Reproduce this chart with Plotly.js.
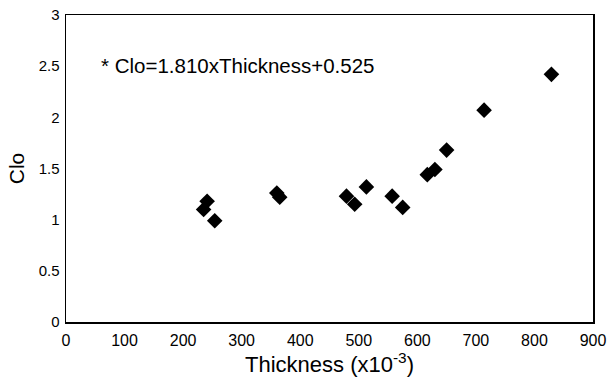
<!DOCTYPE html>
<html>
<head>
<meta charset="utf-8">
<script src="https://cdn.plot.ly/plotly-3.0.1.min.js"></script>
<style>html,body{margin:0;padding:0;background:#fff;}#chart{width:609px;height:382px;}</style>
</head>
<body>
<div id="chart"></div>
<script>
var thickness = [241, 235, 254, 360, 365, 479, 493, 513, 557, 575, 617, 630, 650, 714, 829];
var clo = [1.18, 1.10, 0.99, 1.26, 1.22, 1.23, 1.15, 1.32, 1.23, 1.12, 1.44, 1.49, 1.68, 2.07, 2.42];
var xTicks = [0, 100, 200, 300, 400, 500, 600, 700, 800, 900];
var yTicks = [0, 0.5, 1, 1.5, 2, 2.5, 3];
var equation = "* Clo=1.810xThickness+0.525";

var font = "Liberation Sans, Arial, sans-serif";
Plotly.newPlot('chart', [{
  x: thickness, y: clo, type: 'scatter', mode: 'markers',
  marker: {symbol: 'diamond', size: 12, color: '#000', line: {width: 0}},
  hoverinfo: 'none'
}], {
  width: 609, height: 382,
  margin: {l: 66, r: 16, t: 15, b: 60},
  paper_bgcolor: '#fff', plot_bgcolor: '#fff',
  showlegend: false,
  font: {family: font, color: '#000'},
  xaxis: {
    range: [0, 900], tickvals: xTicks, ticktext: xTicks.map(String),
    showgrid: false, zeroline: false, showline: true, mirror: true,
    linecolor: '#000', linewidth: 1.5, ticks: '',
    tickfont: {size: 16, family: font}, ticklabelstandoff: 3,
    title: {text: 'Thickness (x10<sup>-3</sup>)', font: {size: 22, family: font}, standoff: 4}
  },
  yaxis: {
    range: [0, 3], tickvals: yTicks, ticktext: yTicks.map(String),
    showgrid: false, zeroline: false, showline: true, mirror: true,
    linecolor: '#000', linewidth: 1.5, ticks: '',
    tickfont: {size: 15, family: font}, ticklabelstandoff: 2,
    title: {text: 'Clo', font: {size: 21, family: font}, standoff: 8}
  },
  annotations: [{
    xref: 'paper', yref: 'paper', x: 0.063, y: 0.835, xanchor: 'left', yanchor: 'middle',
    text: equation, showarrow: false, font: {size: 20.5, family: font, color: '#000'}
  }]
}, {staticPlot: true});
</script>
</body>
</html>
